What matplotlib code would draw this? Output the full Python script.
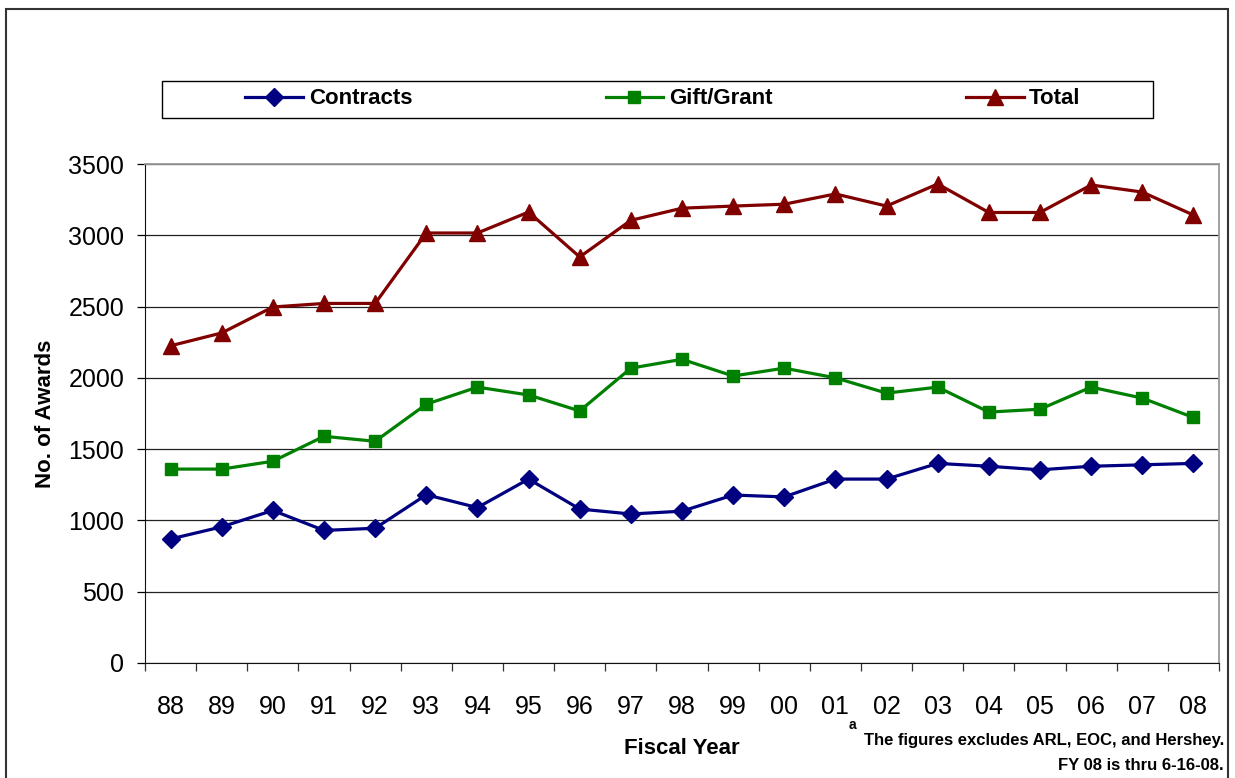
import numpy as np
import matplotlib
matplotlib.use("Agg")
import matplotlib.pyplot as plt
from matplotlib.patches import Rectangle

plt.rcParams["font.family"] = ["Liberation Sans", "DejaVu Sans"]

years = ["88", "89", "90", "91", "92", "93", "94", "95", "96", "97", "98",
         "99", "00", "01", "02", "03", "04", "05", "06", "07", "08"]
contracts = [870, 955, 1070, 930, 945, 1180, 1090, 1290, 1080, 1045, 1065,
             1178, 1165, 1290, 1290, 1400, 1380, 1355, 1380, 1390, 1400]
gift_grant = [1360, 1360, 1415, 1590, 1555, 1815, 1935, 1880, 1768, 2068, 2130,
              2013, 2068, 2000, 1893, 1935, 1760, 1780, 1935, 1858, 1722]
total = [2225, 2315, 2497, 2522, 2522, 3016, 3016, 3163, 2848, 3105, 3190,
         3205, 3218, 3290, 3205, 3360, 3160, 3160, 3353, 3303, 3142]

C_CON = "#000080"
C_GIFT = "#008000"
C_TOT = "#800000"

fig = plt.figure(figsize=(12.35, 7.78), dpi=100)
W, H = 1235, 778
ax = fig.add_axes([145 / W, 1 - 663 / H, (1219 - 145) / W, (663 - 164) / H])

x = np.arange(len(years))
ax.plot(x, contracts, color=C_CON, lw=2.3, marker="D", ms=9.5, label="Contracts")
ax.plot(x, gift_grant, color=C_GIFT, lw=2.3, marker="s", ms=9, label="Gift/Grant")
ax.plot(x, total, color=C_TOT, lw=2.3, marker="^", ms=11, label="Total")

ax.set_xlim(-0.5, len(years) - 0.5)
ax.set_ylim(0, 3500)
ax.set_yticks(np.arange(0, 3501, 500))
ax.yaxis.grid(True, color="#222222", lw=0.9)
ax.set_axisbelow(True)

ax.set_xticks(x)
ax.set_xticklabels(years)
ax.set_xticks(np.arange(-0.5, len(years), 1), minor=True)
ax.tick_params(axis="x", which="major", length=0, pad=23, labelsize=18)
ax.tick_params(axis="x", which="minor", length=6, width=0.9, color="#333333")
ax.tick_params(axis="y", length=6, width=0.9, pad=9, labelsize=18)

for side in ("top", "right"):
    ax.spines[side].set_color("#999999")
    ax.spines[side].set_linewidth(1.3)
ax.spines["left"].set_color("#111111")
ax.spines["bottom"].set_color("#111111")

ax.set_ylabel("No. of Awards", fontsize=16, fontweight="bold", labelpad=9)
ax.set_xlabel("Fiscal Year", fontsize=16, fontweight="bold", labelpad=14)

# legend box
fig.patches.append(Rectangle((162 / W, 1 - 118 / H), (1153 - 162) / W, 37 / H,
                             transform=fig.transFigure, fill=False,
                             edgecolor="black", lw=1.0))
handles, labels = ax.get_legend_handles_labels()
fig.legend(handles, labels, loc="center", bbox_to_anchor=(663 / W, 1 - 99 / H),
           ncol=3, frameon=False, handlelength=2.6, handletextpad=0.25,
           columnspacing=8.7, prop={"size": 16, "weight": "bold"})

# outer border
fig.patches.append(Rectangle((6 / W, -0.02), (1228 - 6) / W, 1.02 - 9 / H,
                             transform=fig.transFigure, fill=False,
                             edgecolor="#333333", lw=1.5))

fig.text(849 / W, 1 - 725 / H, "a", fontsize=10, fontweight="bold",
         ha="left", va="center")
fig.text(1224 / W, 1 - 741 / H, "The figures excludes ARL, EOC, and Hershey.",
         fontsize=12, fontweight="bold", ha="right", va="center")
fig.text(1224 / W, 1 - 766 / H, "FY 08 is thru 6-16-08.",
         fontsize=12, fontweight="bold", ha="right", va="center")

fig.savefig("out.png", dpi=100)
